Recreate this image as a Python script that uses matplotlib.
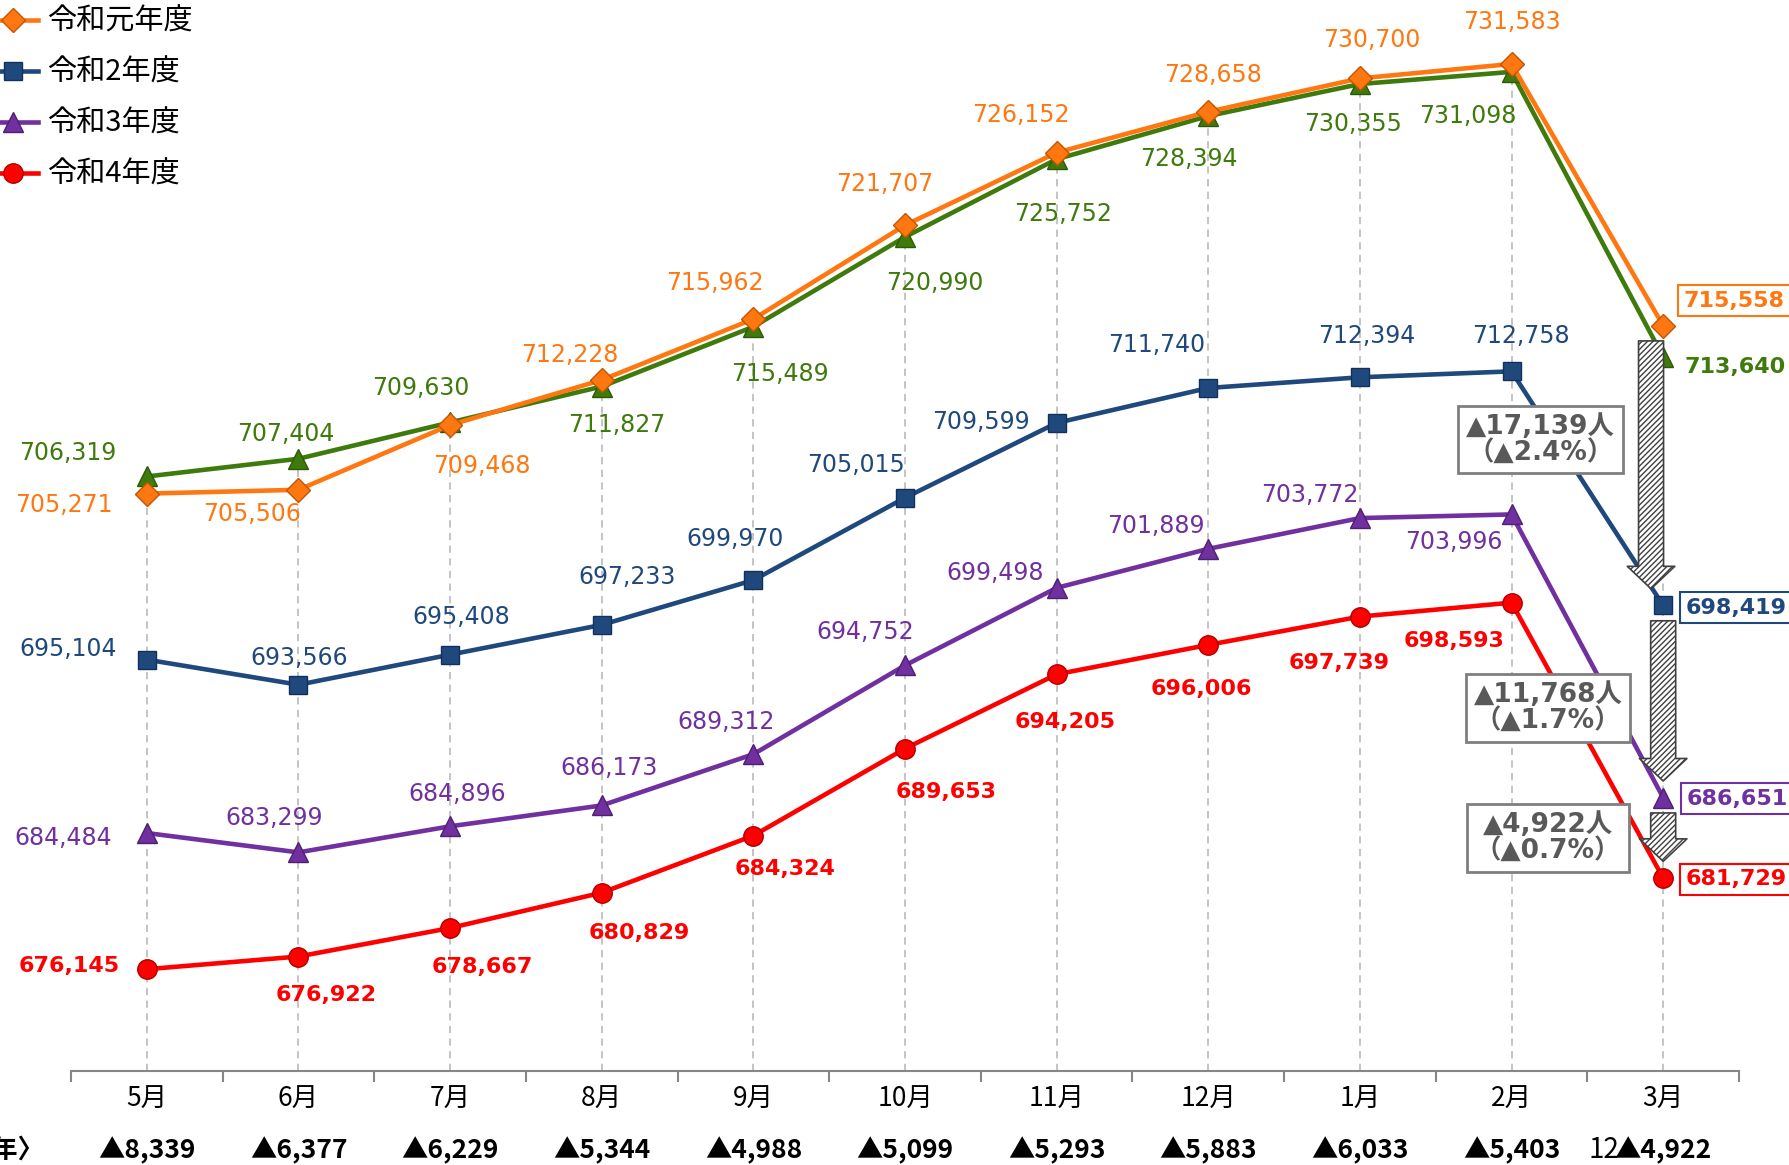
import numpy as np
import matplotlib
matplotlib.use("Agg")
import matplotlib.pyplot as plt
import matplotlib.patches as mpatches
from matplotlib.lines import Line2D

plt.rcParams['font.family'] = ['DejaVu Sans', 'Noto Sans CJK JP']

months = ['5月', '6月', '7月', '8月', '9月', '10月', '11月', '12月', '1月', '2月', '3月']
diff_prev = ['▲8,339', '▲6,377', '▲6,229', '▲5,344', '▲4,988', '▲5,099',
             '▲5,293', '▲5,883', '▲6,033', '▲5,403', '▲4,922']

green_vals = [706319, 707404, 709630, 711827, 715489, 720990, 725752, 728394, 730355, 731098, 713640]
r1_vals = [705271, 705506, 709468, 712228, 715962, 721707, 726152, 728658, 730700, 731583, 715558]
r2_vals = [695104, 693566, 695408, 697233, 699970, 705015, 709599, 711740, 712394, 712758, 698419]
r3_vals = [684484, 683299, 684896, 686173, 689312, 694752, 699498, 701889, 703772, 703996, 686651]
r4_vals = [676145, 676922, 678667, 680829, 684324, 689653, 694205, 696006, 697739, 698593, 681729]

callouts = ['▲17,139人\n（▲2.4%）', '▲11,768人\n（▲1.7%）', '▲4,922人\n（▲0.7%）']

# label offsets (px in the reduced preview, x right / y down)
off_green = [(-69, -21), (-11, -22), (-26, -30), (13, 34), (23, 41), (26, 40), (6, 48),
             (-17, 38), (-6, 35), (-38, 39), (63, 9)]
off_r1 = [(-73, 10), (-41, 21), (28, 36), (-28, -22), (-34, -32), (-18, -36), (-31, -33),
          (4, -32), (10, -34), (0, -37), (62, -22)]
off_r2 = [(-69, -9), (1, -23), (10, -33), (22, -42), (-16, -36), (-43, -29), (-66, -1),
          (-45, -38), (6, -36), (8, -31), (64, 2)]
off_r3 = [(-73, 4), (-21, -30), (6, -28), (6, -33), (-24, -28), (-35, -29), (-54, -13),
          (-46, -20), (-44, -20), (-51, 24), (65, 1)]
off_r4 = [(-68, -3), (24, 34), (28, 34), (33, 35), (28, 29), (36, 38), (7, 42), (-6, 39),
          (-18, 41), (-50, 34), (64, 1)]

SC = 1790 / 1568

fig = plt.figure(figsize=(17.9, 11.65), dpi=100)
ax = fig.add_axes([71 / 1790, 1 - 1071 / 1165, (1739 - 71) / 1790, 1071 / 1165])
ax.set_xlim(-0.5, 10.5)
ax.set_ylim(669911, 735500)

x = np.arange(len(months))

series = [
    (green_vals, '#3F7A0C', '#2E5A08', '^', 15, None, off_green, 'normal'),
    (r1_vals, '#FF7711', '#C45500', 'D', 12, '令和元年度', off_r1, 'normal'),
    (r2_vals, '#1F497D', '#14305A', 's', 13, '令和2年度', off_r2, 'normal'),
    (r3_vals, '#7030A0', '#4E2070', '^', 15, '令和3年度', off_r3, 'normal'),
    (r4_vals, '#FF0000', '#B00000', 'o', 14, '令和4年度', off_r4, 'bold'),
]

# drop lines
tops = np.max([s[0] for s in series], axis=0)
ax.vlines(x, 669911, tops, colors='#BFBFBF', linestyles=(0, (4, 3)), linewidth=1.3, zorder=1)

handles = []
for vals, col, ecol, mk, ms, name, offs, wt in series:
    ax.plot(x, vals, color=col, lw=3.3, marker=mk, ms=ms, mfc=col, mec=ecol, mew=1,
            zorder=3, clip_on=False)
    for i, v in enumerate(vals):
        dx, dy = offs[i]
        last = i == len(vals) - 1
        box = None
        weight = 'bold' if last else wt
        if last and name is not None:
            box = dict(boxstyle='square,pad=0.25', fc='white', ec=col, lw=1.5)
        ax.annotate(f'{v:,}', (i, v), xytext=(dx * SC, -dy * SC), textcoords='offset pixels',
                    ha='center', va='center', color=col, fontsize=17 if weight == 'normal' else 16,
                    fontweight=weight, bbox=box, zorder=5, annotation_clip=False)
    if name is not None:
        handles.append(Line2D([], [], color=col, lw=3.3, marker=mk, ms=ms, mfc=col, mec=ecol,
                              label=name))

# hatched arrows at March
arrow_pairs = [(r1_vals[-1], r2_vals[-1], 9.92), (r2_vals[-1], r3_vals[-1], 10.0),
               (r3_vals[-1], r4_vals[-1], 10.0)]
for y1, y2, ax_x in arrow_pairs:
    arr = mpatches.FancyArrowPatch((ax_x, y1), (ax_x, y2),
                                   arrowstyle='simple,head_length=0.9,head_width=1.9,tail_width=1.0',
                                   mutation_scale=18, shrinkA=11, shrinkB=12,
                                   fc='white', ec='#404040', lw=1.2, hatch='//////', zorder=4)
    ax.add_patch(arr)

# callout boxes
callout_pos = [(9.19, 708584), (9.24, 692155), (9.24, 684185)]
for txt, (cx, cy) in zip(callouts, callout_pos):
    ax.text(cx, cy, txt, ha='center', va='center', fontsize=19, fontweight='bold',
            color='#595959', linespacing=1.0, zorder=6,
            bbox=dict(boxstyle='square,pad=0.3', fc='white', ec='#7F7F7F', lw=2))

# axes styling
for sp in ['top', 'left', 'right']:
    ax.spines[sp].set_visible(False)
ax.spines['bottom'].set_color('#868686')
ax.spines['bottom'].set_linewidth(1.5)
ax.set_yticks([])
ax.set_xticks(np.arange(-0.5, 11, 1))
ax.set_xticklabels([])
ax.tick_params(axis='x', which='major', direction='out', length=8, width=1.5, color='#868686')
ax.set_xticks(x, minor=True)
ax.set_xticklabels(months, minor=True, fontsize=19, family='Noto Sans CJK JP')
ax.tick_params(axis='x', which='minor', length=0, pad=11)

trans = ax.get_xaxis_transform()
for i, t in enumerate(diff_prev):
    ax.text(i, -0.0747, t, transform=trans, ha='center', va='center', fontsize=19,
            fontweight='bold', family=['Noto Sans CJK JP'], clip_on=False)
fig.text(44 / 1790, 1 - 1151 / 1165, '〈対前年〉', ha='right', va='center', fontsize=19,
         fontweight='bold', family=['Noto Sans CJK JP'])
fig.text(1604 / 1790, 1 - 1150 / 1165, '12', ha='center', va='center', fontsize=20,
         family=['Noto Sans CJK JP'])

fig.legend(handles=handles, loc='upper left', bbox_to_anchor=(-0.013, 1.004), frameon=False,
           prop={'family': 'Noto Sans CJK JP', 'size': 21}, handlelength=1.7,
           handletextpad=0.3, labelspacing=0.72, borderaxespad=0)

fig.savefig('out.png', dpi=100)
